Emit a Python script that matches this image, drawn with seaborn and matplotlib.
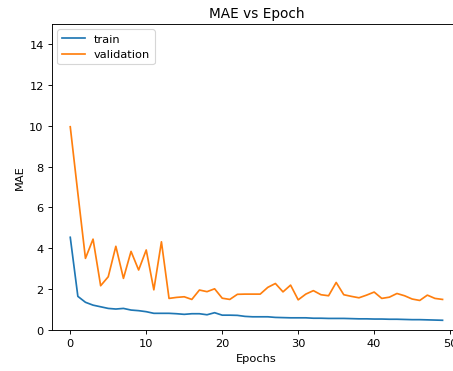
import matplotlib as mpl
mpl.use('Agg')

import numpy as np
import pandas as pd
import seaborn as sns
import matplotlib.pyplot as plt

epochs = list(range(50))
train_mae = [4.54, 1.65, 1.36, 1.22, 1.14, 1.06, 1.03, 1.06, 0.98, 0.95,
             0.90, 0.82, 0.82, 0.82, 0.80, 0.77, 0.80, 0.80, 0.75, 0.85,
             0.73, 0.73, 0.72, 0.67, 0.65, 0.65, 0.65, 0.62, 0.61, 0.60,
             0.60, 0.60, 0.58, 0.58, 0.57, 0.57, 0.57, 0.56, 0.55, 0.55,
             0.54, 0.54, 0.53, 0.53, 0.52, 0.51, 0.51, 0.50, 0.49, 0.48]
val_mae = [9.95, 6.70, 3.51, 4.45, 2.17, 2.61, 4.10, 2.53, 3.85, 2.94,
           3.92, 1.97, 4.32, 1.55, 1.60, 1.63, 1.50, 1.96, 1.88, 2.02,
           1.56, 1.50, 1.75, 1.76, 1.76, 1.76, 2.09, 2.28, 1.87, 2.20,
           1.48, 1.76, 1.93, 1.73, 1.68, 2.33, 1.73, 1.65, 1.58, 1.71,
           1.86, 1.55, 1.61, 1.79, 1.68, 1.52, 1.45, 1.71, 1.55, 1.50]

df = pd.DataFrame({'epoch': epochs, 'train': train_mae, 'validation': val_mae})

# the reference looks like a ~0.82 downscale of a default figure, so use dpi 82
dpi = 82
fig = plt.figure(figsize=(453 / dpi, 372 / dpi), dpi=dpi)
# right edge runs past the figure, like the cropped reference
ax = fig.add_axes([0.114, 0.110, 0.904, 0.824])

sns.lineplot(data=df, x='epoch', y='train', label='train', color='tab:blue', ax=ax)
sns.lineplot(data=df, x='epoch', y='validation', label='validation', color='tab:orange', ax=ax)

ax.set_ylim(0, 15)
ax.set_xlim(-2.45, 51.45)
ax.set_xlabel('Epochs')
ax.set_ylabel('MAE')
ax.set_title('MAE vs Epoch')
ax.legend(loc='upper left')

fig.savefig('out.png', dpi=dpi)
